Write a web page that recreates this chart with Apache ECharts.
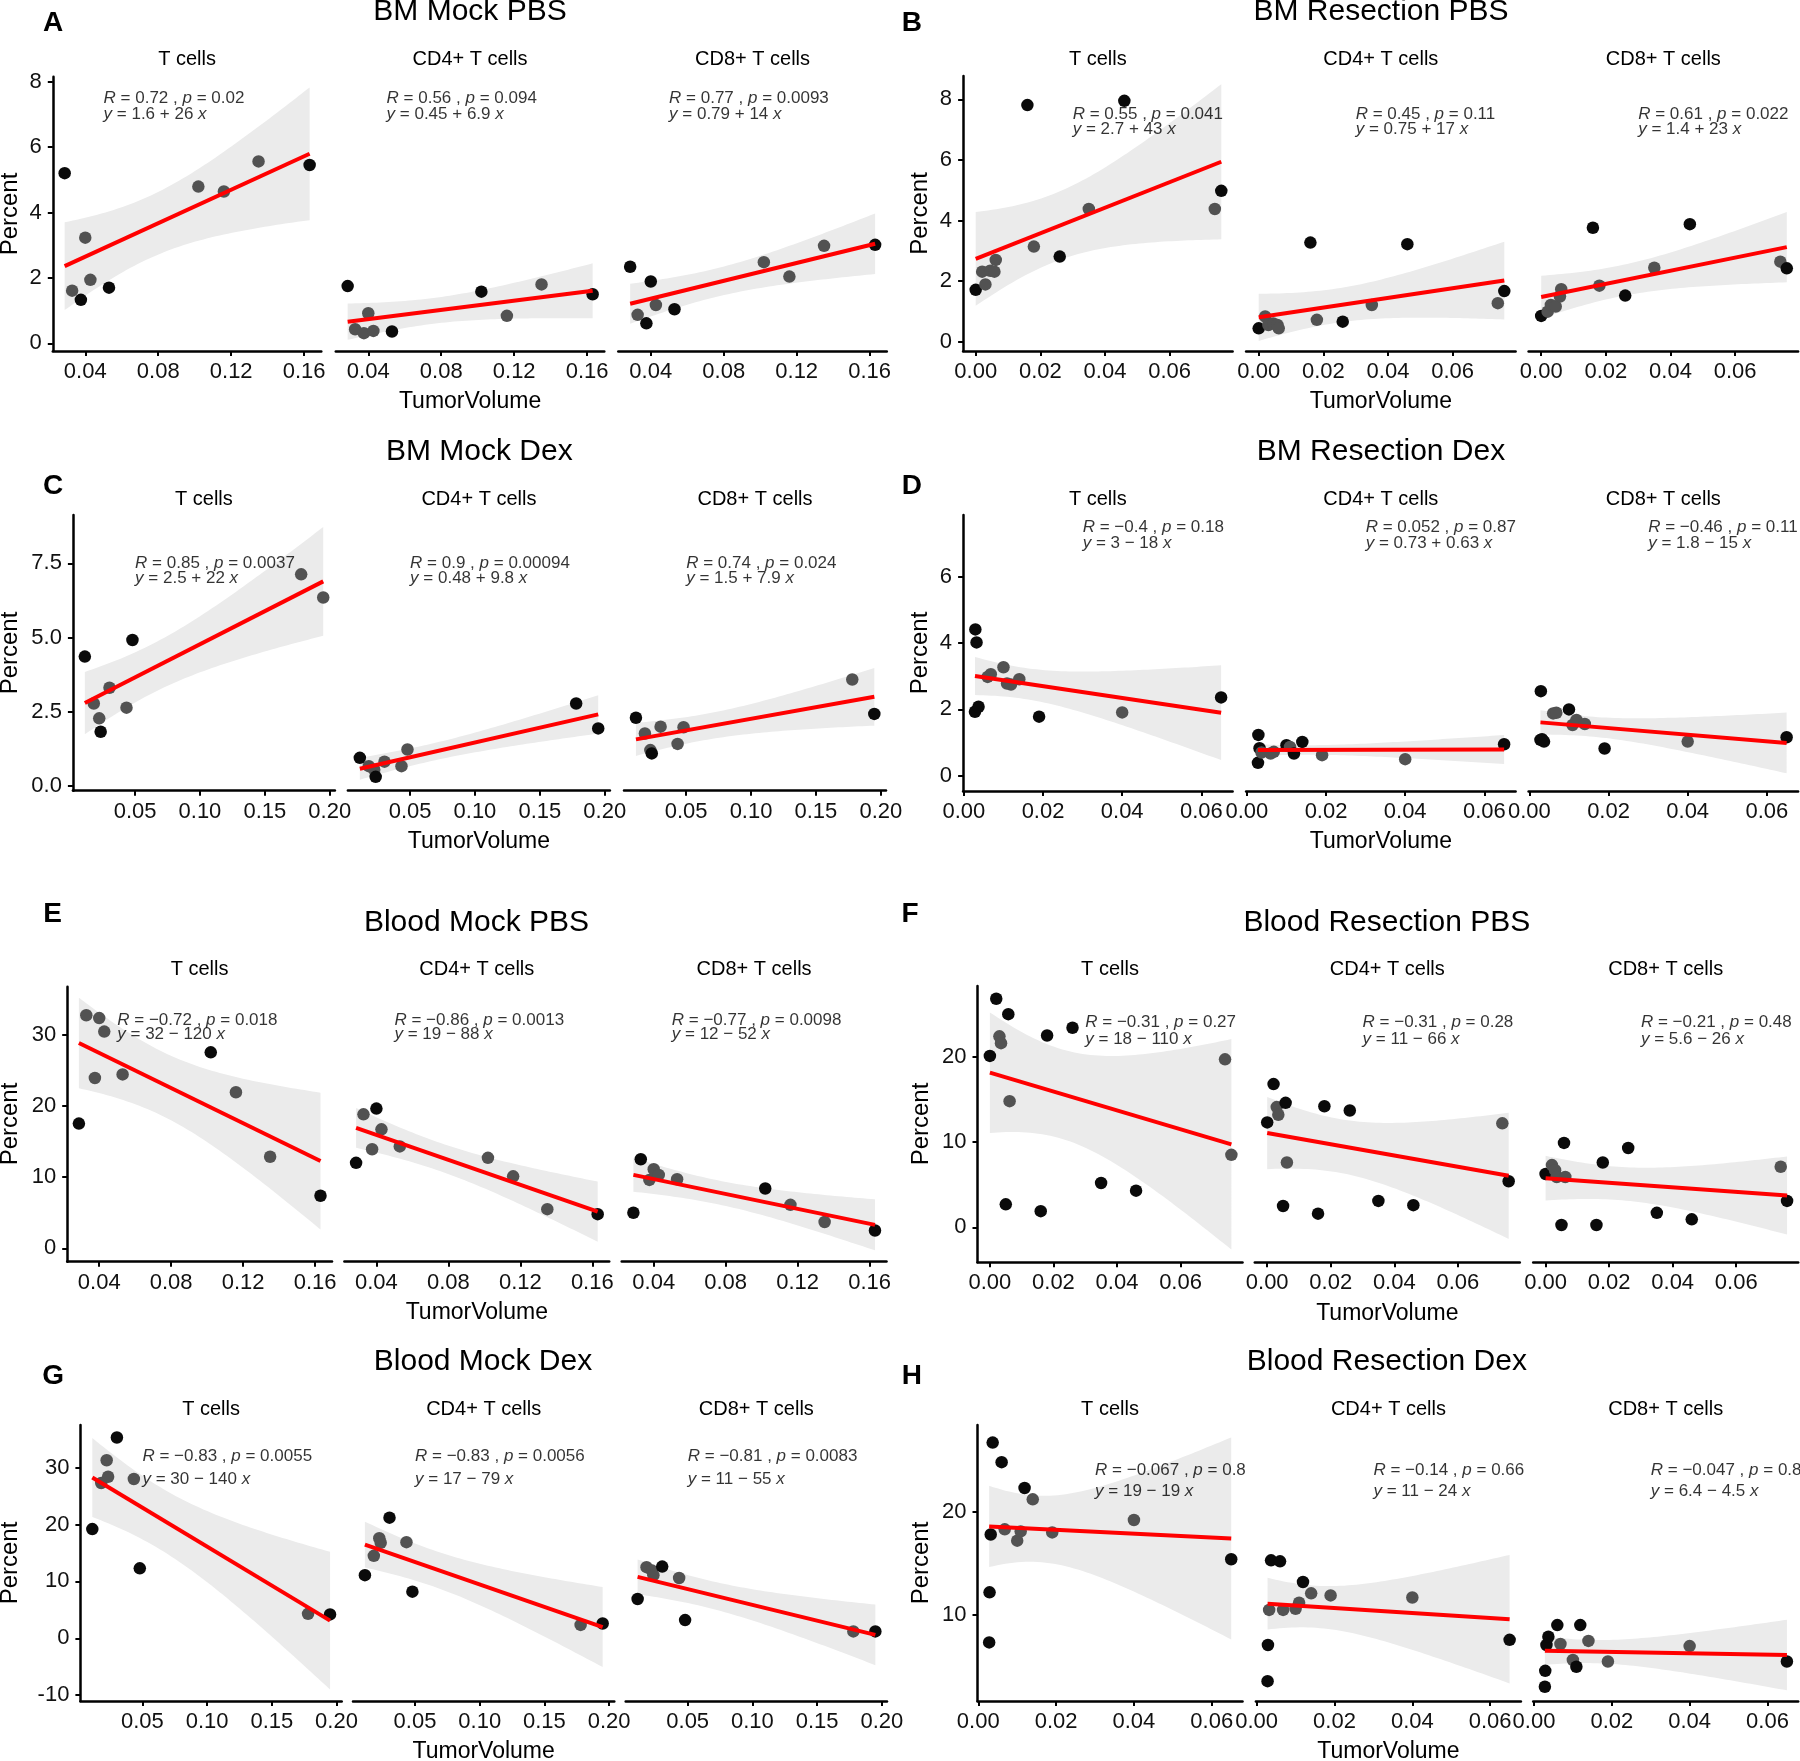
<!DOCTYPE html>
<html>
<head>
<meta charset="utf-8">
<script src="https://cdn.jsdelivr.net/npm/echarts@6.0.0/dist/echarts.min.js"></script>
<style>
html,body{margin:0;padding:0;background:#ffffff;}
#chart{width:1800px;height:1761px;}
</style>
</head>
<body>
<div id="chart"></div>
<script>
// ================= DATA =================
const cellTypes = ['T cells', 'CD4+ T cells', 'CD8+ T cells'];

// Tumor volume (x) per experimental group
const tvMockPBS = [0.0287, 0.0328, 0.0376, 0.0400, 0.0428, 0.0530, 0.1020, 0.1160, 0.1350, 0.1630];
const tvResPBSBM = [0.000, 0.002, 0.003, 0.0045, 0.0058, 0.0062, 0.016, 0.018, 0.026, 0.035, 0.046, 0.074, 0.076];
const tvResPBSBlood = [0.000, 0.002, 0.003, 0.0035, 0.005, 0.0058, 0.0062, 0.016, 0.018, 0.026, 0.035, 0.046, 0.074, 0.076];
const tvMockDex = [0.0113, 0.0182, 0.0224, 0.0235, 0.0303, 0.0434, 0.0480, 0.1780, 0.1950];
const tvResDex = [0.0028, 0.0029, 0.0032, 0.0037, 0.0060, 0.0068, 0.0100, 0.0109, 0.0119, 0.0140, 0.0190, 0.0400, 0.0650];

// Percent (y) per panel and cell type
const aT   = [5.20, 1.61, 1.33, 3.23, 1.94, 1.70, 4.79, 4.64, 5.56, 5.45];
const aCD4 = [1.75, 0.43, 0.31, 0.92, 0.38, 0.36, 1.58, 0.84, 1.80, 1.50];
const aCD8 = [2.34, 0.87, 0.61, 1.89, 1.17, 1.04, 2.48, 2.04, 2.98, 3.01];

const bT   = [1.71, 2.31, 1.89, 2.34, 2.31, 2.70, 7.81, 3.14, 2.81, 4.38, 7.95, 4.38, 4.98];
const bCD4 = [0.44, 0.83, 0.55, 0.60, 0.55, 0.44, 3.27, 0.72, 0.66, 1.21, 3.22, 1.27, 1.67];
const bCD8 = [0.85, 0.99, 1.21, 1.16, 1.49, 1.73, 3.76, 1.85, 1.52, 2.44, 3.88, 2.64, 2.42];

const cT   = [4.36, 2.78, 2.28, 1.83, 3.31, 2.64, 4.92, 7.13, 6.35];
const cCD4 = [0.95, 0.67, 0.55, 0.31, 0.82, 0.67, 1.23, 2.78, 1.94];
const cCD8 = [2.30, 1.77, 1.21, 1.10, 2.00, 1.42, 1.98, 3.59, 2.43];

const dT   = [1.93, 4.41, 4.02, 2.08, 2.98, 3.06, 3.27, 2.78, 2.75, 2.91, 1.78, 1.91, 2.36];
const dCD4 = [0.39, 1.23, 0.83, 0.70, 0.67, 0.72, 0.92, 0.87, 0.67, 1.02, 0.62, 0.50, 0.95];
const dCD8 = [1.08, 2.55, 1.10, 1.03, 1.88, 1.90, 2.00, 1.53, 1.68, 1.56, 0.82, 1.03, 1.16];

const eT   = [17.5, 32.7, 23.9, 32.3, 30.4, 24.4, 27.5, 21.9, 12.85, 7.38];
const eCD4 = [12.0, 18.8, 13.9, 19.6, 16.7, 14.3, 12.7, 10.1, 5.5, 4.8];
const eCD8 = [5.0, 12.5, 9.6, 11.1, 10.3, 9.7, 8.4, 6.1, 3.7, 2.5];

const fT   = [20.1, 26.8, 22.4, 21.6, 2.7, 25.0, 14.8, 1.9, 22.5, 23.4, 5.2, 4.3, 19.7, 8.5];
const fCD4 = [12.3, 16.8, 14.1, 13.2, 2.5, 14.6, 7.6, 1.6, 14.2, 13.7, 3.1, 2.6, 12.2, 5.4];
const fCD8 = [6.25, 7.3, 6.7, 5.9, 0.27, 9.9, 5.9, 0.27, 7.6, 9.3, 1.7, 0.94, 7.1, 3.1];

const gT   = [19.2, 27.3, 31.3, 28.4, 35.3, 28.0, 12.3, 4.3, 4.2];
const gCD4 = [11.1, 14.5, 17.6, 16.8, 21.2, 16.9, 8.2, 2.35, 2.6];
const gCD8 = [6.9, 12.5, 11.9, 11.1, 12.6, 10.6, 3.2, 1.2, 1.2];

const hT   = [7.35, 12.2, 17.8, 26.7, 24.8, 18.3, 17.2, 18.1, 22.3, 21.2, 18.0, 19.2, 15.4];
const hCD4 = [3.6, 7.1, 10.5, 15.3, 15.2, 10.5, 10.6, 11.2, 13.2, 12.1, 11.9, 11.7, 7.6];
const hCD8 = [3.06, 4.6, 7.1, 7.9, 9.03, 7.2, 5.65, 5.0, 9.03, 7.5, 5.5, 7.0, 5.5];

// point shade (1 = black, 0 = dark grey)
const aShade = [[1,0,1,0,0,1,0,0,0,1],[1,0,0,0,0,1,1,0,0,1],[1,0,1,1,0,1,0,0,0,1]];
const bShade = [[1,0,0,0,0,0,1,0,1,0,1,0,1],[1,0,0,0,0,0,1,0,1,0,1,0,1],[1,0,0,0,0,0,1,0,1,0,1,0,1]];
const cShade = [[1,0,0,1,0,0,1,0,0],[1,0,0,1,0,0,0,1,1],[1,0,0,1,0,0,0,0,1]];
const dShade = [[1,1,1,1,0,0,0,0,0,0,1,0,1],[1,1,1,0,0,0,1,0,1,1,0,0,1],[1,1,1,1,0,0,1,0,0,0,1,0,1]];
const eShade = [[1,0,0,0,0,0,1,0,0,1],[1,0,0,1,0,0,0,0,0,1],[1,1,0,0,0,0,1,0,0,1]];
const fShade = [[1,1,0,0,1,1,0,1,1,1,1,1,0,0],[1,1,0,0,1,1,0,1,1,1,1,1,0,1],[1,0,0,0,1,1,0,1,1,1,1,1,0,1]];
const gShade = [[1,0,0,0,1,0,1,0,1],[1,0,0,0,1,0,1,0,1],[1,0,0,0,1,0,1,0,1]];
const hShade = [[1,1,1,1,1,0,0,0,1,0,0,0,1],[1,1,0,1,1,0,0,0,1,0,0,0,1],[1,1,1,1,1,0,0,1,1,0,0,0,1]];

// annotation texts [R, p, equation]
const annA = [['0.72','0.02','1.6 + 26'],['0.56','0.094','0.45 + 6.9'],['0.77','0.0093','0.79 + 14']];
const annB = [['0.55','0.041','2.7 + 43'],['0.45','0.11','0.75 + 17'],['0.61','0.022','1.4 + 23']];
const annC = [['0.85','0.0037','2.5 + 22'],['0.9','0.00094','0.48 + 9.8'],['0.74','0.024','1.5 + 7.9']];
const annD = [['\u22120.4','0.18','3 \u2212 18'],['0.052','0.87','0.73 + 0.63'],['\u22120.46','0.11','1.8 \u2212 15']];
const annE = [['\u22120.72','0.018','32 \u2212 120'],['\u22120.86','0.0013','19 \u2212 88'],['\u22120.77','0.0098','12 \u2212 52']];
const annF = [['\u22120.31','0.27','18 \u2212 110'],['\u22120.31','0.28','11 \u2212 66'],['\u22120.21','0.48','5.6 \u2212 26']];
const annG = [['\u22120.83','0.0055','30 \u2212 140'],['\u22120.83','0.0056','17 \u2212 79'],['\u22120.81','0.0083','11 \u2212 55']];
const annH = [['\u22120.067','0.8','19 \u2212 19'],['\u22120.14','0.66','11 \u2212 24'],['\u22120.047','0.8','6.4 \u2212 4.5']];

// annotation anchors in data units [x, R-line y, equation y]
const annPosA = [0.05, 7.5, 7.0];
const annPosB = [0.03, 7.5, 7.0];
const annPosC = [0.05, 7.5, 7.0];
const annPosD = [0.03, 7.5, 7.0];
const annPosE = [0.05, 32, 30];
const annPosF = [0.03, 24, 22];
const annPosG = [0.05, 32, 28];
const annPosH = [0.03, 24, 22];

// axis ranges and ticks
const xRangeMockPBS = [0.0222, 0.1694];
const xRangeResPBS  = [-0.0039, 0.0795];
const xRangeMockDex = [0.0021, 0.2040];
const xRangeResDex  = [-0.0002, 0.0679];
const xTicksMockPBS = [0.04, 0.08, 0.12, 0.16];
const xTicksResPBS  = [0.00, 0.02, 0.04, 0.06];
const xTicksMockDex = [0.05, 0.10, 0.15, 0.20];
const xTicksResDex  = [0.00, 0.02, 0.04, 0.06];

const yRangeA = [-0.235, 8.15];  const yTicksA = [0, 2, 4, 6, 8];
const yRangeB = [-0.308, 8.77];  const yTicksB = [0, 2, 4, 6, 8];
const yRangeC = [-0.157, 9.13];  const yTicksC = [0, 2.5, 5, 7.5];
const yRangeD = [-0.46, 7.86];   const yTicksD = [0, 2, 4, 6];
const yRangeE = [-1.87, 36.7];   const yTicksE = [0, 10, 20, 30];
const yRangeF = [-4.1, 28.3];    const yTicksF = [0, 10, 20];
const yRangeG = [-11.03, 37.5];  const yTicksG = [-10, 0, 10, 20, 30];
const yRangeH = [1.68, 28.4];    const yTicksH = [10, 20];

// ================= LAYOUT (pixels) =================
const layout = {
  A: {lefts:[52.8,335.8,618.3], width:268.5, top:76.7, bottom:351, title:[470,12], letter:[53.1,23.3], stripY:59, percent:[10.3,214]},
  B: {lefts:[963.1,1246.1,1528.6], width:269.5, top:76, bottom:351, title:[1381,12], letter:[911.8,23.3], stripY:59, percent:[920,213.5]},
  C: {lefts:[72.9,347.9,624], width:262, top:515, bottom:790.7, title:[479.3,451.7], letter:[53.1,486.7], stripY:499, percent:[10.3,653]},
  D: {lefts:[963.1,1246.1,1528.6], width:269.5, top:515, bottom:791, title:[1381,451.7], letter:[911.8,486.7], stripY:499, percent:[920,653]},
  E: {lefts:[67.2,344.4,621.7], width:264.8, top:986.7, bottom:1261.7, title:[476.5,922.3], letter:[52.5,914.5], stripY:969.3, percent:[10.3,1124]},
  F: {lefts:[977.5,1254.8,1533.2], width:265, top:986, bottom:1262.3, title:[1386.8,922.3], letter:[910,914.5], stripY:969.3, percent:[921.8,1124]},
  G: {lefts:[80.4,353,625.7], width:261.3, top:1425, bottom:1701, title:[483,1361.7], letter:[53.1,1376.7], stripY:1409, percent:[10.3,1563]},
  H: {lefts:[977.5,1255.9,1533.2], width:265, top:1425, bottom:1701, title:[1386.8,1361.7], letter:[911.8,1376.7], stripY:1409, percent:[921.8,1563]}
};

const panels = [
  {id:'A', title:'BM Mock PBS',         tv:tvMockPBS,    ys:[aT,aCD4,aCD8], shade:aShade, ann:annA, annPos:annPosA, xRange:xRangeMockPBS, xTicks:xTicksMockPBS, yRange:yRangeA, yTicks:yTicksA, yDec:0},
  {id:'B', title:'BM Resection PBS',    tv:tvResPBSBM,   ys:[bT,bCD4,bCD8], shade:bShade, ann:annB, annPos:annPosB, xRange:xRangeResPBS,  xTicks:xTicksResPBS,  yRange:yRangeB, yTicks:yTicksB, yDec:0},
  {id:'C', title:'BM Mock Dex',         tv:tvMockDex,    ys:[cT,cCD4,cCD8], shade:cShade, ann:annC, annPos:annPosC, xRange:xRangeMockDex, xTicks:xTicksMockDex, yRange:yRangeC, yTicks:yTicksC, yDec:1},
  {id:'D', title:'BM Resection Dex',    tv:tvResDex,     ys:[dT,dCD4,dCD8], shade:dShade, ann:annD, annPos:annPosD, xRange:xRangeResDex,  xTicks:xTicksResDex,  yRange:yRangeD, yTicks:yTicksD, yDec:0},
  {id:'E', title:'Blood Mock PBS',      tv:tvMockPBS,    ys:[eT,eCD4,eCD8], shade:eShade, ann:annE, annPos:annPosE, xRange:xRangeMockPBS, xTicks:xTicksMockPBS, yRange:yRangeE, yTicks:yTicksE, yDec:0},
  {id:'F', title:'Blood Resection PBS', tv:tvResPBSBlood,ys:[fT,fCD4,fCD8], shade:fShade, ann:annF, annPos:annPosF, xRange:xRangeResPBS,  xTicks:xTicksResPBS,  yRange:yRangeF, yTicks:yTicksF, yDec:0},
  {id:'G', title:'Blood Mock Dex',      tv:tvMockDex,    ys:[gT,gCD4,gCD8], shade:gShade, ann:annG, annPos:annPosG, xRange:xRangeMockDex, xTicks:xTicksMockDex, yRange:yRangeG, yTicks:yTicksG, yDec:0},
  {id:'H', title:'Blood Resection Dex', tv:tvResDex,     ys:[hT,hCD4,hCD8], shade:hShade, ann:annH, annPos:annPosH, xRange:xRangeResDex,  xTicks:xTicksResDex,  yRange:yRangeH, yTicks:yTicksH, yDec:0}
];

// ================= STATS (linear fit + 95% CI, as in geom_smooth(method = "lm")) =================
const T975 = [0, 12.706, 4.303, 3.182, 2.776, 2.571, 2.447, 2.365, 2.306, 2.262, 2.228, 2.201, 2.179, 2.160, 2.145, 2.131];
function fitLM(xs, ys) {
  const n = xs.length;
  let mx = 0, my = 0;
  for (let i = 0; i < n; i++) { mx += xs[i]; my += ys[i]; }
  mx /= n; my /= n;
  let sxx = 0, sxy = 0;
  for (let i = 0; i < n; i++) { sxx += (xs[i]-mx)*(xs[i]-mx); sxy += (xs[i]-mx)*(ys[i]-my); }
  const b = sxy / sxx, a = my - b * mx;
  let sse = 0;
  for (let i = 0; i < n; i++) { const r = ys[i] - a - b*xs[i]; sse += r*r; }
  const s = Math.sqrt(sse / (n - 2));
  const t = T975[n - 2];
  const x0 = Math.min.apply(null, xs), x1 = Math.max.apply(null, xs);
  const upper = [], lower = [];
  const N = 60;
  for (let k = 0; k <= N; k++) {
    const x = x0 + (x1 - x0) * k / N;
    const yh = a + b * x;
    const se = s * Math.sqrt(1/n + (x-mx)*(x-mx)/sxx);
    upper.push([x, yh + t*se]);
    lower.push([x, yh - t*se]);
  }
  return {a, b, x0, x1, upper, lower};
}

// ================= BUILD OPTION =================
const FONT = '"Liberation Sans", Arial, Helvetica, sans-serif';
const grids = [], xAxes = [], yAxes = [], series = [], graphics = [];

function textEl(text, pos, size, weight, rotation) {
  return {
    type: 'text', x: pos[0], y: pos[1], rotation: rotation || 0, silent: true,
    style: {
      text: text, fill: '#000', fontSize: size, fontWeight: weight || 'normal', fontFamily: FONT,
      align: 'center', verticalAlign: 'middle', textAlign: 'center', textVerticalAlign: 'middle'
    }
  };
}

const richStyle = {
  i: {fontStyle: 'italic', fontSize: 17, fontFamily: FONT, color: '#000'},
  n: {fontStyle: 'normal', fontSize: 17, fontFamily: FONT, color: '#000'}
};

let gi = 0;
panels.forEach(p => {
  const L = layout[p.id];
  graphics.push(textEl(p.id, L.letter, 28, 'bold'));
  graphics.push(textEl(p.title, L.title, 30));
  graphics.push(textEl('Percent', L.percent, 24, 'normal', Math.PI / 2));
  graphics.push(textEl('TumorVolume', [L.lefts[1] + L.width / 2, L.bottom + 51], 23));

  for (let k = 0; k < 3; k++) {
    const left = L.lefts[k];
    graphics.push(textEl(cellTypes[k], [left + L.width / 2, L.stripY], 20));

    grids.push({left: left, top: L.top, width: L.width, height: L.bottom - L.top,
                containLabel: false, outerBoundsMode: 'none', show: false});

    xAxes.push({
      gridIndex: gi, type: 'value', min: p.xRange[0], max: p.xRange[1],
      axisLine: {show: true, onZero: false, lineStyle: {color: '#000', width: 2.5}},
      axisTick: {show: true, inside: false, length: 5, customValues: p.xTicks, lineStyle: {color: '#000', width: 2}},
      axisLabel: {show: true, customValues: p.xTicks, margin: 10, fontSize: 22, fontFamily: FONT, color: '#111',
                  formatter: v => Number(v).toFixed(2)},
      splitLine: {show: false}, minorTick: {show: false}
    });

    const showY = (k === 0);
    yAxes.push({
      gridIndex: gi, type: 'value', min: p.yRange[0], max: p.yRange[1], show: showY,
      axisLine: {show: showY, onZero: false, lineStyle: {color: '#000', width: 2.5}},
      axisTick: {show: showY, inside: false, length: 5, customValues: p.yTicks, lineStyle: {color: '#000', width: 2}},
      axisLabel: {show: showY, customValues: p.yTicks, margin: 11, fontSize: 22, fontFamily: FONT, color: '#111',
                  formatter: v => Number(v).toFixed(p.yDec)},
      splitLine: {show: false}
    });

    const xs = p.tv, ys = p.ys[k], sh = p.shade[k];
    const fit = fitLM(xs, ys);

    // confidence band
    series.push({
      type: 'custom', xAxisIndex: gi, yAxisIndex: gi, silent: true, z: 1, data: [0],
      renderItem: (params, api) => {
        const pts = fit.upper.map(q => api.coord(q)).concat(fit.lower.slice().reverse().map(q => api.coord(q)));
        return {type: 'polygon', shape: {points: pts}, style: {fill: '#ebebeb', stroke: null}};
      }
    });
    // points
    series.push({
      type: 'scatter', xAxisIndex: gi, yAxisIndex: gi, silent: true, z: 2,
      symbol: 'circle', symbolSize: 12.5,
      data: xs.map((x, j) => [x, ys[j], sh[j]]),
      itemStyle: {opacity: 1, color: prm => (prm.data[2] ? '#0a0a0a' : '#525252')},
      emphasis: {disabled: true}
    });
    // regression line
    series.push({
      type: 'line', xAxisIndex: gi, yAxisIndex: gi, silent: true, z: 3,
      symbol: 'none', showSymbol: false,
      data: [[fit.x0, fit.a + fit.b * fit.x0], [fit.x1, fit.a + fit.b * fit.x1]],
      lineStyle: {color: '#ff0000', width: 4},
      emphasis: {disabled: true}
    });
    // annotations
    const an = p.ann[k], ap = p.annPos;
    series.push({
      type: 'scatter', xAxisIndex: gi, yAxisIndex: gi, silent: true, z: 4,
      symbol: 'circle', symbolSize: 0.1, itemStyle: {color: 'rgba(0,0,0,0)'},
      clip: false,
      label: {show: true, position: 'right', distance: 0, align: 'left', verticalAlign: 'middle',
              fontSize: 17, fontFamily: FONT, color: '#000', rich: richStyle},
      data: [
        {value: [ap[0], ap[1]], label: {formatter: '{i|R}{n| = ' + an[0] + ' , }{i|p}{n| = ' + an[1] + '}'}},
        {value: [ap[0], ap[2]], label: {formatter: '{i|y}{n| = ' + an[2] + ' }{i|x}'}}
      ],
      emphasis: {disabled: true}
    });
    gi++;
  }
});

const chart = echarts.init(document.getElementById('chart'), null, {renderer: 'canvas'});
chart.setOption({
  backgroundColor: '#ffffff',
  animation: false,
  tooltip: {show: false},
  grid: grids,
  xAxis: xAxes,
  yAxis: yAxes,
  series: series,
  graphic: graphics
});
</script>
</body>
</html>
